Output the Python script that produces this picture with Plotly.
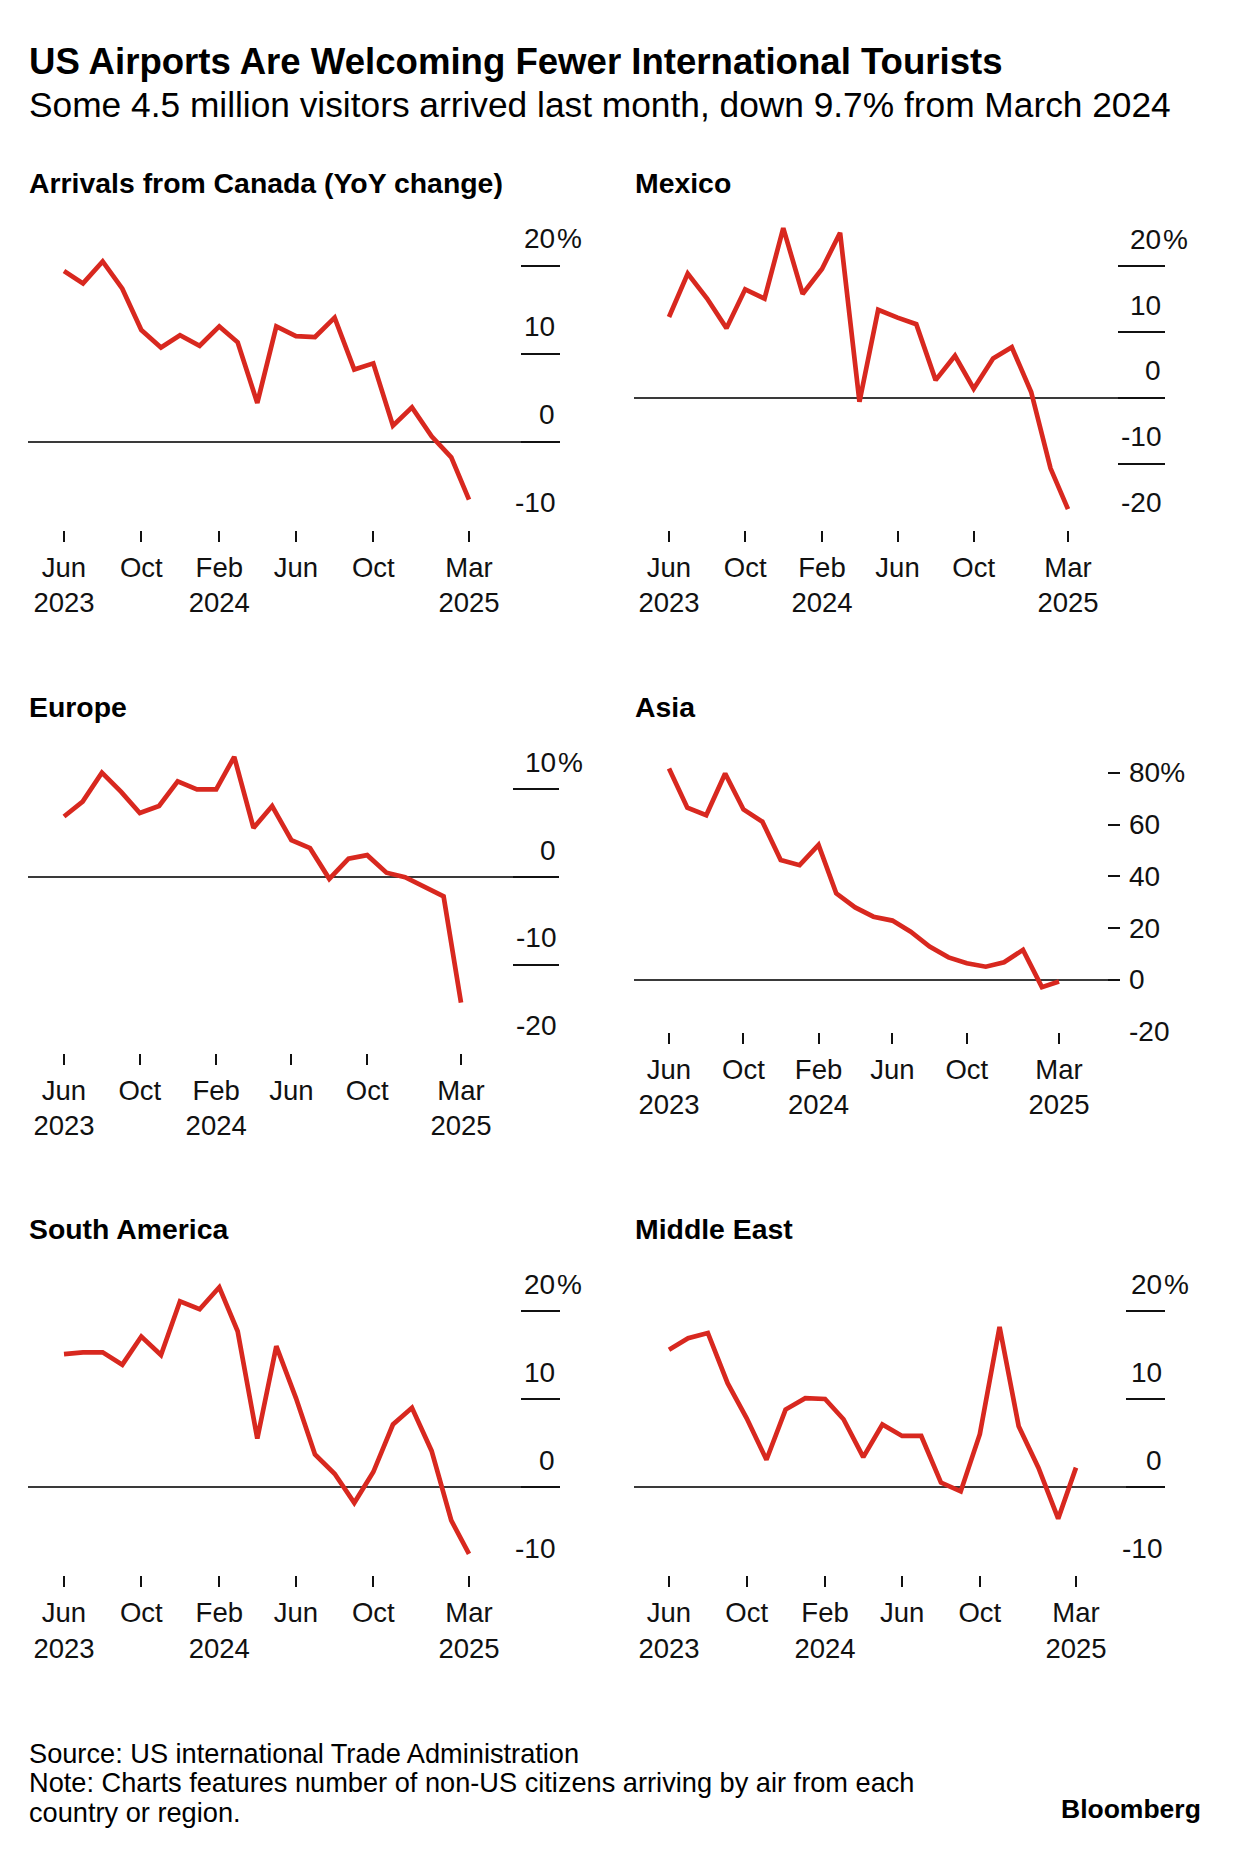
import pandas as pd
import plotly.graph_objects as go

# ---------------- data ----------------
months = pd.date_range("2023-06-01", "2025-03-01", freq="MS")

canada = [19.4, 18.0, 20.5, 17.4, 12.7, 10.7, 12.1, 10.9, 13.1, 11.3, 4.4,
          13.1, 12.0, 11.9, 14.1, 8.2, 8.9, 1.8, 3.9, 0.6, -1.8, -6.6]
mexico = [12.3, 18.9, 15.1, 10.6, 16.5, 15.1, 25.8, 15.8, 19.6, 25.1, -0.6,
          13.4, 12.2, 11.2, 2.7, 6.4, 1.4, 6.0, 7.7, 0.9, -10.7, -16.9]
europe = [6.9, 8.6, 11.9, 9.7, 7.3, 8.1, 10.9, 10.0, 10.0, 13.7, 5.6,
          8.1, 4.2, 3.3, -0.2, 2.1, 2.5, 0.5, 0.0, -1.1, -2.2, -14.3]
asia = [81.6, 66.5, 63.6, 79.7, 65.8, 61.1, 46.3, 44.3, 52.1, 33.4, 28.0,
        24.4, 22.9, 18.6, 12.9, 8.7, 6.4, 5.1, 6.8, 11.6, -2.8, -0.6]
south_america = [15.1, 15.3, 15.3, 13.9, 17.1, 15.0, 21.1, 20.2, 22.7, 17.7, 5.5,
                 16.0, 10.1, 3.7, 1.5, -1.8, 1.7, 7.1, 9.0, 4.1, -3.8, -7.6]
middle_east = [15.6, 16.9, 17.5, 11.8, 7.8, 3.1, 8.8, 10.1, 10.0, 7.7, 3.4,
               7.1, 5.8, 5.8, 0.5, -0.5, 6.0, 18.2, 6.9, 2.2, -3.6, 2.2]

x_tick_dates = ["2023-06-01", "2023-10-01", "2024-02-01", "2024-06-01", "2024-10-01", "2025-03-01"]
x_tick_text = ["Jun<br>2023", "Oct", "Feb<br>2024", "Jun", "Oct", "Mar<br>2025"]

canada_ticks = [-10, 0, 10, 20]
mexico_ticks = [-20, -10, 0, 10, 20]
europe_ticks = [-20, -10, 0, 10]
asia_ticks = [-20, 0, 20, 40, 60, 80]
south_america_ticks = [-10, 0, 10, 20]
middle_east_ticks = [-10, 0, 10, 20]

panel_titles = ["Arrivals from Canada (YoY change)", "Mexico", "Europe", "Asia",
                "South America", "Middle East"]
title = "US Airports Are Welcoming Fewer International Tourists"
subtitle = "Some 4.5 million visitors arrived last month, down 9.7% from March 2024"
source_lines = ["Source: US international Trade Administration",
                "Note: Charts features number of non-US citizens arriving by air from each",
                "country or region."]
brand = "Bloomberg"

# ---------------- layout (pixels) ----------------
W, H = 1240, 1854
RED = "#d8281f"
FONT = "Liberation Sans, Arial, sans-serif"
INK = "#111111"

panels = [
    dict(values=canada, ticks=canada_ticks, left=28, right=560, x0=64, x1=469,
         base=529.5, ppu=8.79, hi=24, ticklen=39, title_y=183, style="above", ldx=-4),
    dict(values=mexico, ticks=mexico_ticks, left=634, right=1165, x0=669, x1=1068,
         base=529.5, ppu=6.58, hi=27.5, ticklen=47, title_y=183, style="above", ldx=-3),
    dict(values=europe, ticks=europe_ticks, left=28, right=559, x0=64, x1=461,
         base=1052.7, ppu=8.78, hi=15.5, ticklen=46, title_y=707, style="above", ldx=-2),
    dict(values=asia, ticks=asia_ticks, left=634, right=1120, x0=669, x1=1059,
         base=1031.7, ppu=2.59, hi=86, ticklen=12, title_y=707, style="side", ldx=8),
    dict(values=south_america, ticks=south_america_ticks, left=28, right=560, x0=64, x1=469,
         base=1575, ppu=8.8, hi=24.5, ticklen=39, title_y=1229, style="above", ldx=-4),
    dict(values=middle_east, ticks=middle_east_ticks, left=634, right=1165, x0=669, x1=1076,
         base=1575, ppu=8.8, hi=24.5, ticklen=39, title_y=1229, style="above", ldx=-2),
]

fig = go.Figure()
annotations = []
layout = dict(
    width=W, height=H, margin=dict(l=0, r=0, t=0, b=0),
    paper_bgcolor="white", plot_bgcolor="white", showlegend=False,
    font=dict(family=FONT, color=INK),
)

t0, t1 = months[0], months[-1]
span_days = (t1 - t0) / pd.Timedelta(days=1)

for i, p in enumerate(panels, start=1):
    xa = "xaxis" if i == 1 else f"xaxis{i}"
    ya = "yaxis" if i == 1 else f"yaxis{i}"
    xr = "x" if i == 1 else f"x{i}"
    yr = "y" if i == 1 else f"y{i}"
    lo = min(p["ticks"])
    hi = p["hi"]
    bottom_px = p["base"]
    top_px = bottom_px - (hi - lo) * p["ppu"]
    pxd = (p["x1"] - p["x0"]) / span_days
    rl = t0 - pd.Timedelta(days=(p["x0"] - p["left"]) / pxd)
    rr = t1 + pd.Timedelta(days=(p["right"] - p["x1"]) / pxd)

    fig.add_trace(go.Scatter(
        x=months, y=p["values"], mode="lines",
        line=dict(color=RED, width=4.7), xaxis=xr, yaxis=yr, hoverinfo="skip",
    ))

    layout[xa] = dict(
        domain=[p["left"] / W, p["right"] / W],
        range=[rl.strftime("%Y-%m-%d %H:%M:%S"), rr.strftime("%Y-%m-%d %H:%M:%S")],
        type="date", anchor=yr,
        tickvals=x_tick_dates, ticktext=x_tick_text,
        ticks="outside", ticklen=11, tickwidth=2, tickcolor=INK,
        tickfont=dict(size=27.5, color=INK, family=FONT),
        ticklabelstandoff=2,
        showgrid=False, zeroline=False, showline=False, fixedrange=True,
    )
    layout[ya] = dict(
        domain=[1 - bottom_px / H, 1 - top_px / H],
        range=[lo, hi], anchor=xr, side="right",
        tickvals=p["ticks"], showticklabels=False,
        ticks="inside", ticklen=p["ticklen"], tickwidth=2, tickcolor=INK,
        showgrid=False, showline=False,
        zeroline=True, zerolinecolor="#3a3a3a", zerolinewidth=1.6, fixedrange=True,
    )

    # panel title
    annotations.append(dict(
        text=panel_titles[i - 1], xref="paper", yref="paper",
        x=p["left"] / W, y=1 - p["title_y"] / H, xanchor="left", yanchor="middle",
        showarrow=False, borderpad=0,
        font=dict(size=28.4, family=FONT, color="black", weight="bold"),
    ))

    # y tick labels
    top_tick = max(p["ticks"])
    for v in p["ticks"]:
        num = f"{v}"
        if p["style"] == "above":
            xl = (p["right"] + p["ldx"]) / W
            annotations.append(dict(
                text=num, xref="paper", yref=yr, x=xl, y=v,
                xanchor="right", yanchor="middle", yshift=27, showarrow=False,
                borderpad=0, font=dict(size=28, family=FONT, color=INK),
            ))
            if v == top_tick:
                annotations.append(dict(
                    text="%", xref="paper", yref=yr, x=xl, y=v,
                    xanchor="left", yanchor="middle", yshift=27, showarrow=False,
                    borderpad=0, font=dict(size=28, family=FONT, color=INK),
                ))
        else:
            annotations.append(dict(
                text=num + ("%" if v == top_tick else ""), xref="paper", yref=yr,
                x=(p["right"] + p["ldx"]) / W, y=v, xanchor="left", yanchor="middle",
                showarrow=False, borderpad=0,
                font=dict(size=28, family=FONT, color=INK),
            ))

# headline texts
annotations.append(dict(
    text=title, xref="paper", yref="paper", x=28 / W, y=1 - 62 / H,
    xanchor="left", yanchor="middle", showarrow=False, borderpad=0,
    font=dict(size=36.6, family=FONT, color="black", weight="bold"),
))
annotations.append(dict(
    text=subtitle, xref="paper", yref="paper", x=28 / W, y=1 - 104 / H,
    xanchor="left", yanchor="middle", showarrow=False, borderpad=0,
    font=dict(size=35.3, family=FONT, color="black"),
))
for k, line in enumerate(source_lines):
    annotations.append(dict(
        text=line, xref="paper", yref="paper", x=28 / W, y=1 - (1753 + 29.5 * k) / H,
        xanchor="left", yanchor="middle", showarrow=False, borderpad=0,
        font=dict(size=27.2, family=FONT, color="black"),
    ))
annotations.append(dict(
    text=brand, xref="paper", yref="paper", x=1202 / W, y=1 - 1809 / H,
    xanchor="right", yanchor="middle", showarrow=False, borderpad=0,
    font=dict(size=26.5, family=FONT, color="black", weight="bold"),
))

layout["annotations"] = annotations
fig.update_layout(**layout)

fig.write_html("out.html", config={"displayModeBar": False},
               post_script="document.body.style.margin='0';")
